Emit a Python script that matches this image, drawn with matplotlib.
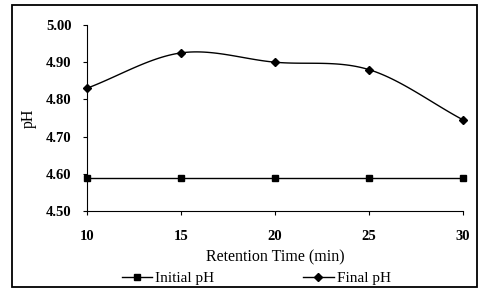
import numpy as np
import matplotlib
matplotlib.use("Agg")
import matplotlib.pyplot as plt
from matplotlib.patches import Rectangle

# data
retention_time = [10, 15, 20, 25, 30]
initial_ph = [4.59, 4.59, 4.59, 4.59, 4.59]
final_ph = [4.83, 4.925, 4.90, 4.88, 4.745]
y_ticks = [4.50, 4.60, 4.70, 4.80, 4.90, 5.00]

plt.rcParams.update({
    "font.family": "Liberation Serif",
    "font.size": 10,
})


def smooth(x, y, n=30):
    # Catmull-Rom style smoothing, like a spreadsheet "smoothed line"
    x = np.asarray(x, float)
    y = np.asarray(y, float)
    px = np.concatenate([[2 * x[0] - x[1]], x, [2 * x[-1] - x[-2]]])
    py = np.concatenate([[2 * y[0] - y[1]], y, [2 * y[-1] - y[-2]]])
    xs, ys = [], []
    t = np.linspace(0, 1, n)
    for i in range(1, len(px) - 2):
        p0, p1, p2, p3 = (np.array([px[j], py[j]]) for j in range(i - 1, i + 3))
        c = 0.5 * ((2 * p1)[:, None] + (-p0 + p2)[:, None] * t
                   + (2 * p0 - 5 * p1 + 4 * p2 - p3)[:, None] * t ** 2
                   + (-p0 + 3 * p1 - 3 * p2 + p3)[:, None] * t ** 3)
        xs.extend(c[0])
        ys.extend(c[1])
    return np.array(xs), np.array(ys)


fig = plt.figure(figsize=(4.79, 2.95), dpi=100)
fig.patches.append(Rectangle((12 / 479, 1 - 287 / 295), 465 / 479, 282 / 295,
                             transform=fig.transFigure, fill=False,
                             edgecolor="black", lw=1.3))

ax = fig.add_axes([87 / 479, 1 - 211 / 295, 376 / 479, 186 / 295])

ax.plot(retention_time, initial_ph, color="black", lw=1.0,
        marker="s", ms=5, label="Initial pH", clip_on=False)
sx, sy = smooth(retention_time, final_ph)
ax.plot(sx, sy, color="black", lw=1.0, clip_on=False)
ax.plot(retention_time, final_ph, color="black", lw=0, marker="D", ms=4.5,
        clip_on=False)
ax.plot([], [], color="black", lw=1.0, marker="D", ms=4.5, label="Final pH")

ax.set_xlim(10, 30)
ax.set_ylim(4.50, 5.00)
ax.set_xticks(retention_time)
ax.set_yticks(y_ticks)
ax.set_yticklabels([f"{v:.2f}" for v in y_ticks], fontweight="bold")
ax.set_xticklabels([str(v) for v in retention_time], fontweight="bold")
ax.spines["top"].set_visible(False)
ax.spines["right"].set_visible(False)
ax.tick_params(direction="out", length=3, width=0.8, labelsize=10.5)
ax.tick_params(axis="x", pad=11)
ax.tick_params(axis="y", pad=8)

ax.set_xlabel("Retention Time (min)", fontsize=11.5, labelpad=4)
ax.set_ylabel("pH", fontsize=11.5, labelpad=7)

handles, labels = ax.get_legend_handles_labels()
fig.legend(handles, labels, loc="center", bbox_to_anchor=(0.535, 1 - 278 / 295),
           ncol=2, frameon=False, fontsize=11, columnspacing=5.8,
           handlelength=2.0, handletextpad=0.2)

fig.savefig("out.png", dpi=100)
